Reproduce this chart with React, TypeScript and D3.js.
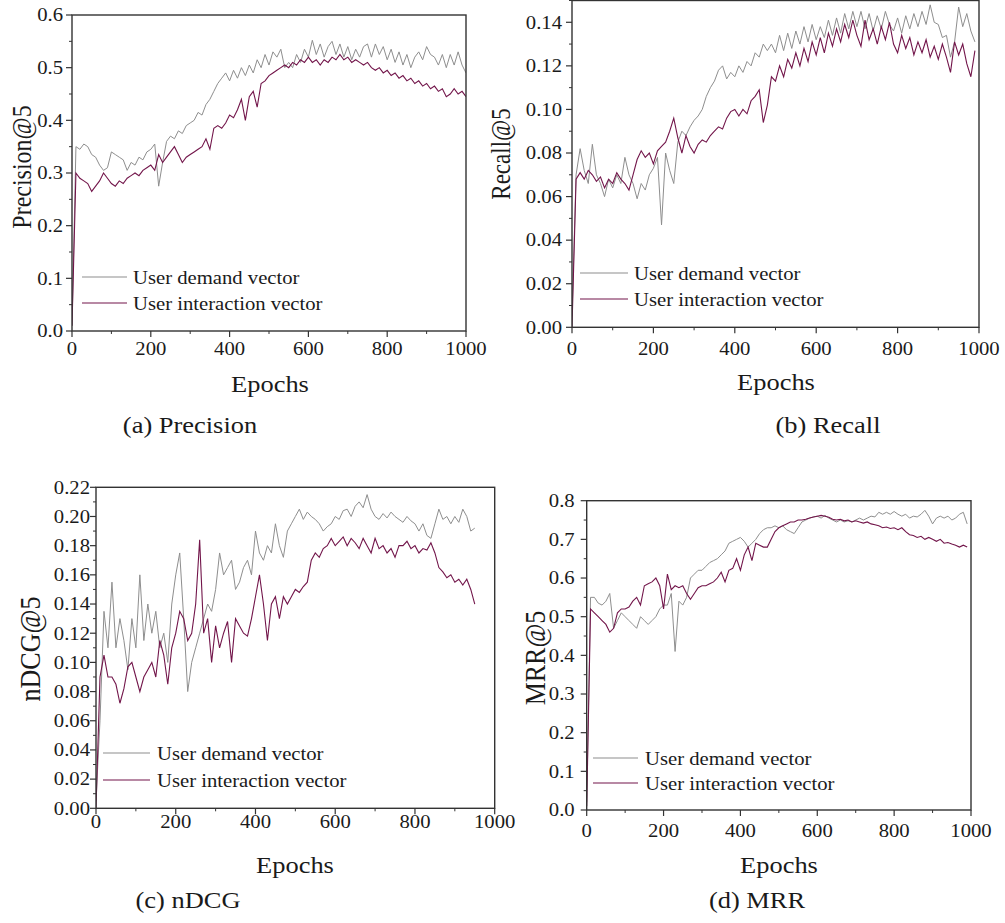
import React from 'react'
import * as d3 from 'd3'

// epochs are sampled every 10 steps
const EPOCH_STEP = 10
const xTickValues = [0, 200, 400, 600, 800, 1000]
const seriesNames = ['User demand vector', 'User interaction vector']
const captions = ['(a) Precision', '(b) Recall', '(c) nDCG', '(d) MRR']
const yTitles = ['Precision@5', 'Recall@5', 'nDCG@5', 'MRR@5']

const precisionTicks = [0, 0.1, 0.2, 0.3, 0.4, 0.5, 0.6]
const recallTicks = [0, 0.02, 0.04, 0.06, 0.08, 0.1, 0.12, 0.14]
const ndcgTicks = [0, 0.02, 0.04, 0.06, 0.08, 0.1, 0.12, 0.14, 0.16, 0.18, 0.2, 0.22]
const mrrTicks = [0, 0.1, 0.2, 0.3, 0.4, 0.5, 0.6, 0.7, 0.8]

const precisionDemand = [
  0.01, 0.35, 0.345, 0.355, 0.35, 0.335, 0.33, 0.315, 0.305, 0.31,
  0.34, 0.335, 0.33, 0.325, 0.305, 0.32, 0.315, 0.33, 0.325, 0.34,
  0.345, 0.355, 0.275, 0.32, 0.36, 0.37, 0.365, 0.38, 0.375, 0.39,
  0.395, 0.4, 0.415, 0.41, 0.43, 0.44, 0.455, 0.47, 0.48, 0.49,
  0.475, 0.495, 0.48, 0.5, 0.485, 0.505, 0.49, 0.515, 0.5, 0.525,
  0.505, 0.53, 0.52, 0.535, 0.5, 0.51, 0.5, 0.525, 0.51, 0.535,
  0.52, 0.552, 0.525, 0.545, 0.52, 0.54, 0.55, 0.525, 0.545, 0.52,
  0.54, 0.515, 0.535, 0.52, 0.54, 0.545, 0.52, 0.545, 0.525, 0.54,
  0.515, 0.535, 0.51, 0.53, 0.505, 0.525, 0.5, 0.52, 0.53, 0.515,
  0.54, 0.525, 0.52, 0.505, 0.525, 0.5, 0.525, 0.505, 0.53, 0.505,
  0.49,
]
const precisionInteraction = [
  0.01, 0.3, 0.29, 0.285, 0.28, 0.265, 0.275, 0.285, 0.3, 0.29,
  0.28, 0.275, 0.285, 0.28, 0.29, 0.295, 0.3, 0.295, 0.305, 0.31,
  0.315, 0.305, 0.335, 0.32, 0.33, 0.34, 0.35, 0.335, 0.32, 0.33,
  0.335, 0.34, 0.345, 0.35, 0.365, 0.345, 0.385, 0.39, 0.385, 0.395,
  0.41, 0.405, 0.42, 0.44, 0.4, 0.445, 0.455, 0.425, 0.47, 0.475,
  0.485, 0.49, 0.495, 0.5, 0.505, 0.5, 0.51, 0.505, 0.515, 0.51,
  0.52, 0.51, 0.515, 0.505, 0.515, 0.51, 0.52, 0.515, 0.525, 0.515,
  0.52, 0.51, 0.515, 0.51, 0.505, 0.51, 0.5, 0.495, 0.5, 0.49,
  0.495, 0.485, 0.49, 0.48, 0.485, 0.475, 0.48, 0.47, 0.475, 0.465,
  0.47, 0.46, 0.465, 0.455, 0.46, 0.445, 0.45, 0.46, 0.45, 0.455,
  0.445,
]

const recallDemand = [
  0.005, 0.07, 0.082, 0.072, 0.066, 0.084, 0.07, 0.066, 0.06, 0.068,
  0.064, 0.07, 0.066, 0.078, 0.07, 0.066, 0.059, 0.066, 0.063, 0.07,
  0.073, 0.078, 0.047, 0.08, 0.072, 0.066, 0.085, 0.09, 0.088, 0.092,
  0.095, 0.097, 0.1, 0.106, 0.11, 0.113, 0.118, 0.12, 0.114, 0.117,
  0.115, 0.12, 0.117, 0.122, 0.12, 0.126, 0.124, 0.13, 0.127, 0.13,
  0.126, 0.134, 0.127, 0.135, 0.128, 0.136, 0.13, 0.138, 0.131, 0.139,
  0.132, 0.138, 0.133, 0.141, 0.134, 0.142, 0.135, 0.144, 0.137, 0.145,
  0.138, 0.145, 0.137, 0.144, 0.136, 0.143, 0.137, 0.145, 0.139, 0.136,
  0.142, 0.135, 0.143, 0.137, 0.144, 0.138, 0.145, 0.139, 0.148, 0.14,
  0.139, 0.133, 0.134, 0.124, 0.131, 0.147, 0.138, 0.144, 0.136, 0.131,
]
const recallInteraction = [
  0, 0.068, 0.071, 0.068, 0.072, 0.07, 0.067, 0.069, 0.064, 0.068,
  0.066, 0.071, 0.068, 0.066, 0.063, 0.07, 0.077, 0.081, 0.078, 0.08,
  0.075, 0.081, 0.083, 0.085, 0.09, 0.096, 0.087, 0.08, 0.088, 0.083,
  0.08, 0.084, 0.086, 0.085, 0.088, 0.09, 0.092, 0.091, 0.096, 0.099,
  0.1, 0.097, 0.1, 0.098, 0.104, 0.106, 0.109, 0.094, 0.102, 0.115,
  0.113, 0.12, 0.115, 0.123, 0.119, 0.126, 0.12, 0.128, 0.122, 0.131,
  0.125, 0.133, 0.126, 0.135, 0.129, 0.137, 0.131, 0.139, 0.133, 0.141,
  0.134, 0.129, 0.141, 0.132, 0.137, 0.13, 0.138, 0.132, 0.14, 0.13,
  0.126, 0.134, 0.128, 0.133, 0.125, 0.131, 0.126, 0.132, 0.124, 0.129,
  0.123, 0.13, 0.124, 0.117, 0.131, 0.125, 0.13, 0.121, 0.115, 0.127,
]

const ndcgDemand = [
  0.005, 0.06, 0.135, 0.11, 0.155, 0.11, 0.13, 0.115, 0.095, 0.13,
  0.11, 0.16, 0.115, 0.14, 0.12, 0.135, 0.11, 0.12, 0.1, 0.14,
  0.16, 0.175, 0.13, 0.08, 0.1, 0.11, 0.12, 0.13, 0.14, 0.135,
  0.15, 0.175, 0.16, 0.165, 0.17, 0.15, 0.155, 0.165, 0.17, 0.16,
  0.19, 0.175, 0.17, 0.18, 0.175, 0.195, 0.18, 0.172, 0.19, 0.195,
  0.2, 0.205, 0.198, 0.203, 0.2, 0.198, 0.195, 0.19, 0.193, 0.195,
  0.2, 0.198, 0.204, 0.205, 0.2, 0.207, 0.21, 0.206, 0.215, 0.205,
  0.2, 0.198, 0.202, 0.199, 0.203, 0.2, 0.198, 0.196, 0.2, 0.197,
  0.195, 0.19, 0.195, 0.187, 0.185, 0.195, 0.205, 0.198, 0.2, 0.195,
  0.2, 0.196, 0.205, 0.2, 0.19, 0.192,
]
const ndcgInteraction = [
  0, 0.09, 0.105, 0.09, 0.09, 0.085, 0.072, 0.082, 0.097, 0.1,
  0.09, 0.08, 0.09, 0.095, 0.1, 0.09, 0.115, 0.105, 0.085, 0.11,
  0.12, 0.135, 0.13, 0.115, 0.12, 0.14, 0.184, 0.12, 0.13, 0.1,
  0.125, 0.11, 0.12, 0.128, 0.1, 0.13, 0.125, 0.12, 0.118, 0.13,
  0.145, 0.16, 0.14, 0.115, 0.14, 0.145, 0.13, 0.145, 0.14, 0.145,
  0.15, 0.148, 0.152, 0.155, 0.17, 0.175, 0.172, 0.178, 0.18, 0.185,
  0.18, 0.183, 0.186, 0.18, 0.185, 0.182, 0.178, 0.185, 0.18, 0.175,
  0.185, 0.178, 0.18, 0.175, 0.178, 0.172, 0.18, 0.18, 0.183, 0.178,
  0.18, 0.175, 0.178, 0.177, 0.182, 0.175, 0.165, 0.162, 0.158, 0.16,
  0.155, 0.157, 0.153, 0.157, 0.15, 0.14,
]

const mrrDemand = [
  0.02, 0.55, 0.55, 0.535, 0.53, 0.54, 0.56, 0.47, 0.49, 0.51,
  0.5, 0.49, 0.48, 0.47, 0.5, 0.49, 0.48, 0.49, 0.5, 0.52,
  0.53, 0.53, 0.56, 0.41, 0.54, 0.53, 0.55, 0.6, 0.61, 0.62,
  0.62, 0.63, 0.64, 0.645, 0.65, 0.66, 0.67, 0.69, 0.695, 0.7,
  0.705, 0.695, 0.68, 0.69, 0.7, 0.715, 0.725, 0.73, 0.73, 0.735,
  0.73, 0.735, 0.725, 0.72, 0.715, 0.73, 0.745, 0.75, 0.755, 0.758,
  0.76, 0.755, 0.762, 0.755, 0.75, 0.745, 0.75, 0.745, 0.748, 0.745,
  0.75, 0.755, 0.75, 0.755, 0.76, 0.758, 0.77, 0.765, 0.77, 0.765,
  0.772, 0.765, 0.76, 0.765, 0.755, 0.76, 0.758, 0.765, 0.775, 0.76,
  0.74, 0.755, 0.76, 0.755, 0.76, 0.75, 0.755, 0.765, 0.77, 0.74,
]
const mrrInteraction = [
  0.01, 0.52, 0.51, 0.5, 0.49, 0.48, 0.46, 0.47, 0.51, 0.52,
  0.52, 0.525, 0.54, 0.55, 0.53, 0.58, 0.585, 0.59, 0.6, 0.58,
  0.52, 0.61, 0.57, 0.58, 0.575, 0.58, 0.56, 0.545, 0.56, 0.575,
  0.58, 0.58, 0.585, 0.59, 0.6, 0.615, 0.59, 0.62, 0.625, 0.65,
  0.62, 0.66, 0.68, 0.645, 0.69, 0.685, 0.68, 0.68, 0.7, 0.72,
  0.73, 0.735, 0.74, 0.745, 0.745, 0.75, 0.75, 0.752, 0.755, 0.758,
  0.76, 0.762, 0.76, 0.757, 0.752, 0.75, 0.752, 0.748, 0.75, 0.745,
  0.748, 0.745, 0.742, 0.745, 0.74, 0.738, 0.735, 0.73, 0.732, 0.728,
  0.73, 0.725, 0.73, 0.72, 0.712, 0.71, 0.705, 0.708, 0.7, 0.705,
  0.7, 0.695, 0.7, 0.69, 0.692, 0.688, 0.685, 0.68, 0.685, 0.68,
]

const GRAY = '#8e8e8e'
const PURPLE = '#72154a'
const INK = '#1a1a1a'
const FONT = '"Liberation Serif", "Times New Roman", serif'
const SX = 1.15 // the original figure is stretched sideways

// layout of each panel (pixel positions)
const layouts = [
  { l: 72, r: 466, t: 15, b: 331, yMax: 0.6, digits: 1, yGap: 9, xDy: 24,
    title: { x: 31, y: 167, size: 24 }, epochs: { x: 270, y: 392 }, cap: { x: 190, y: 433 },
    leg: { x1: 82, x2: 127, y: 277, dy: 26, tx: 133 } },
  { l: 572, r: 979, t: 0.5, b: 327.3, yMax: 0.15, digits: 2, yGap: 10, xDy: 28,
    title: { x: 510, y: 154, size: 23 }, epochs: { x: 776, y: 390 }, cap: { x: 828, y: 433 },
    leg: { x1: 580, x2: 628, y: 273, dy: 26, tx: 634 } },
  { l: 96, r: 494.7, t: 487.3, b: 808.3, yMax: 0.22, digits: 2, yGap: 6, xDy: 20,
    title: { x: 40, y: 649, size: 26 }, epochs: { x: 295, y: 873 }, cap: { x: 188, y: 908 },
    leg: { x1: 103, x2: 150, y: 753, dy: 27, tx: 157 } },
  { l: 586.7, r: 971, t: 500.7, b: 810, yMax: 0.8, digits: 1, yGap: 12, xDy: 27,
    title: { x: 545, y: 658, size: 26 }, epochs: { x: 779, y: 873 }, cap: { x: 757, y: 908 },
    leg: { x1: 593, x2: 638, y: 758, dy: 25, tx: 645 } },
]

const panelData = [
  { demand: precisionDemand, interaction: precisionInteraction, ticks: precisionTicks },
  { demand: recallDemand, interaction: recallInteraction, ticks: recallTicks },
  { demand: ndcgDemand, interaction: ndcgInteraction, ticks: ndcgTicks },
  { demand: mrrDemand, interaction: mrrInteraction, ticks: mrrTicks },
]

function Txt({ x, y, size, anchor = 'start', children }: any) {
  return (
    <text transform={`translate(${x},${y}) scale(${SX},1)`} fontSize={size}
      textAnchor={anchor} fill={INK}>{children}</text>
  )
}

function Panel({ idx }: { idx: number }) {
  const L = layouts[idx]
  const D = panelData[idx]
  const x = d3.scaleLinear().domain([0, 1000]).range([L.l, L.r])
  const y = d3.scaleLinear().domain([0, L.yMax]).range([L.b, L.t])
  const line = d3.line<number>()
    .x((_, i) => x(i * EPOCH_STEP))
    .y(d => y(d))

  const yStep = D.ticks[1] - D.ticks[0]
  const last = D.ticks[D.ticks.length - 1]
  const yMinor = D.ticks.slice(0, -1).map(v => v + yStep / 2)
    .concat(last + yStep / 2 <= L.yMax + 1e-9 ? [last + yStep / 2] : [])
  const xMinor = xTickValues.slice(0, -1).map(v => v + 100)
  const fmt = d3.format(`.${L.digits}f`)
  const t = L.title

  return (
    <g>
      <clipPath id={`clip${idx}`}>
        <rect x={L.l} y={L.t - 2} width={L.r - L.l} height={L.b - L.t + 2} />
      </clipPath>
      <g clipPath={`url(#clip${idx})`}>
        <path d={line(D.demand) || ''} fill="none" stroke={GRAY} strokeWidth={1} />
        <path d={line(D.interaction) || ''} fill="none" stroke={PURPLE} strokeWidth={1.1} />
      </g>

      <rect x={L.l} y={L.t} width={L.r - L.l} height={L.b - L.t}
        fill="none" stroke="#333" strokeWidth={1.4} />

      {D.ticks.map(v => (
        <g key={'y' + v}>
          <line x1={L.l - 6} x2={L.l} y1={y(v)} y2={y(v)} stroke="#333" strokeWidth={1.2} />
          <Txt x={L.l - L.yGap} y={y(v) + 6.3} size={18} anchor="end">{fmt(v)}</Txt>
        </g>
      ))}
      {yMinor.map(v => (
        <line key={'ym' + v} x1={L.l - 3} x2={L.l} y1={y(v)} y2={y(v)} stroke="#333" strokeWidth={1} />
      ))}
      {xTickValues.map(v => (
        <g key={'x' + v}>
          <line x1={x(v)} x2={x(v)} y1={L.b} y2={L.b + 6} stroke="#333" strokeWidth={1.2} />
          <Txt x={x(v)} y={L.b + L.xDy} size={18} anchor="middle">{v}</Txt>
        </g>
      ))}
      {xMinor.map(v => (
        <line key={'xm' + v} x1={x(v)} x2={x(v)} y1={L.b} y2={L.b + 3} stroke="#333" strokeWidth={1} />
      ))}

      <text transform={`translate(${t.x},${t.y}) rotate(-90) scale(1,${SX})`}
        fontSize={t.size} textAnchor="middle" fill={INK}>{yTitles[idx]}</text>
      <Txt x={L.epochs.x} y={L.epochs.y} size={23} anchor="middle">Epochs</Txt>
      <Txt x={L.cap.x} y={L.cap.y} size={23} anchor="middle">{captions[idx]}</Txt>

      {[GRAY, PURPLE].map((c, i) => (
        <g key={'leg' + i}>
          <line x1={L.leg.x1} x2={L.leg.x2} y1={L.leg.y + i * L.leg.dy} y2={L.leg.y + i * L.leg.dy}
            stroke={c} strokeWidth={1.2} />
          <Txt x={L.leg.tx} y={L.leg.y + i * L.leg.dy + 6.5} size={18}>{seriesNames[i]}</Txt>
        </g>
      ))}
    </g>
  )
}

export default function App() {
  return (
    <svg width={1005} height={923} fontFamily={FONT}
      style={{ position: 'absolute', left: 0, top: 0, display: 'block', background: '#fff' }}>
      <rect width={1005} height={923} fill="#fff" />
      {layouts.map((_, i) => <Panel key={i} idx={i} />)}
    </svg>
  )
}
